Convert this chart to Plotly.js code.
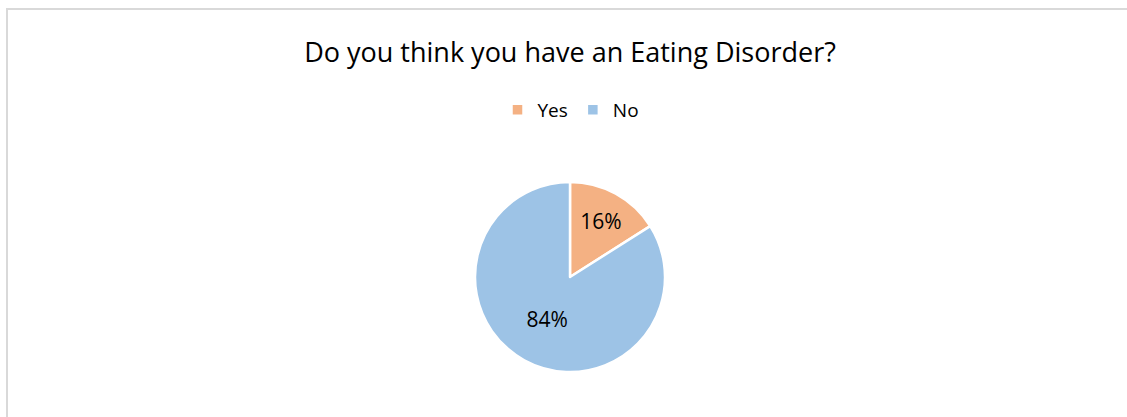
<!DOCTYPE html>
<html>
<head>
<meta charset="utf-8">
<script src="https://cdn.plot.ly/plotly-3.0.1.min.js"></script>
<style>
  html, body { margin: 0; padding: 0; background: #fff; overflow: hidden; }
  #chart { position: absolute; left: 0; top: 0; width: 1127px; height: 417px; }
</style>
</head>
<body>
<div id="chart"></div>
<script>
const categories = ["Yes", "No"];
const values = [16, 84];
const colors = ["#F4B183", "#9DC3E6"];
const chartTitle = "Do you think you have an Eating Disorder?";

const FONT = "'Open Sans', 'Noto Sans', sans-serif";

const data = [{
  type: "pie",
  labels: categories,
  values: values,
  sort: false,
  direction: "clockwise",
  rotation: 0,
  marker: { colors: colors, line: { color: "#ffffff", width: 2.5 } },
  textinfo: "percent",
  texttemplate: "%{percent:.0%}",
  textposition: "inside",
  insidetextorientation: "horizontal",
  textfont: { family: FONT, size: 21, color: "#000000" },
  domain: { x: [475/1127, 665/1127], y: [45/417, 235/417] },
  hoverinfo: "none"
}];

const layout = {
  width: 1127, height: 417,
  margin: { l: 0, r: 0, t: 0, b: 0 },
  paper_bgcolor: "#ffffff",
  title: { text: chartTitle, x: 570/1127, xanchor: "center", y: 1 - 53/417, yanchor: "middle",
           font: { family: FONT, size: 27, color: "#000000" } },
  showlegend: true,
  legend: { orientation: "h", x: 571/1127, xanchor: "center", y: 1 - 110/417, yanchor: "middle",
            font: { family: FONT, size: 19, color: "#000000" },
            itemwidth: 30, traceorder: "normal" },
  shapes: [
    { type: "line", xref: "paper", yref: "paper", x0: 7/1127, x1: 7/1127, y0: 0, y1: 1 - 8/417,
      line: { color: "#d9d9d9", width: 2 } },
    { type: "line", xref: "paper", yref: "paper", x0: 6/1127, x1: 1, y0: 1 - 9/417, y1: 1 - 9/417,
      line: { color: "#d9d9d9", width: 2 } }
  ]
};

Plotly.newPlot("chart", data, layout, { staticPlot: true, displayModeBar: false });
</script>
</body>
</html>
